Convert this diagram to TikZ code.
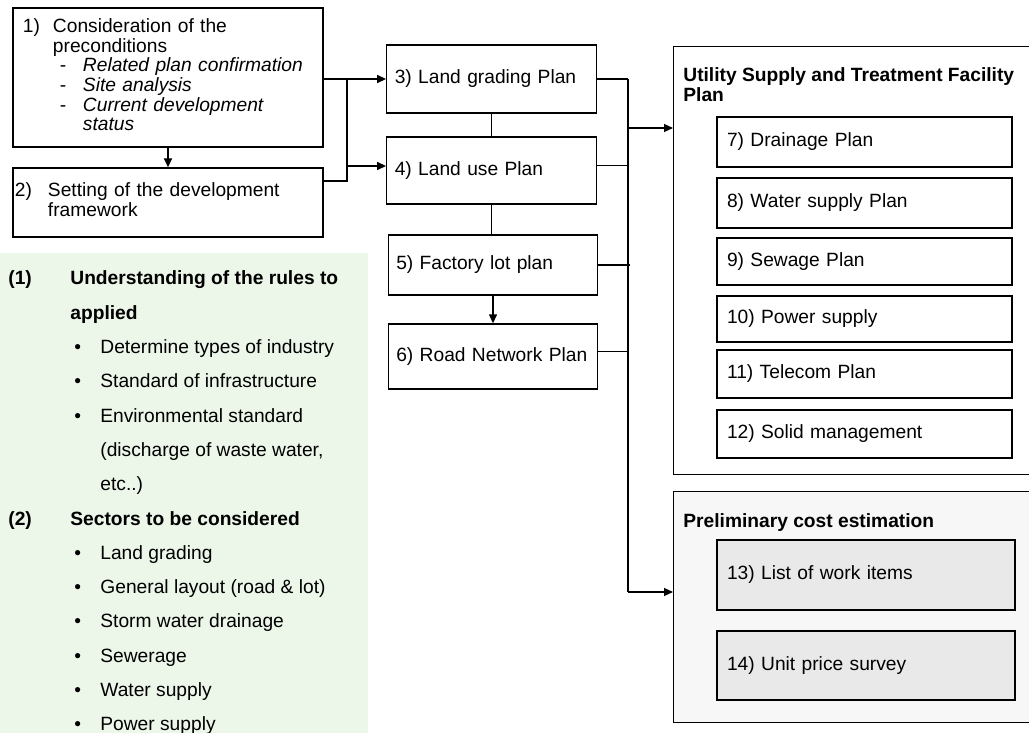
\documentclass[tikz,border=0pt]{standalone}
\usepackage{fontspec}
\setmainfont{Liberation Sans}
\usetikzlibrary{arrows.meta}
\usetikzlibrary{calc}
\definecolor{panelgreen}{RGB}{236,246,233}
\tikzset{planbox/.style={draw, line width=0.7pt, inner xsep=4pt, inner ysep=0pt, align=left, text width=96.75pt}}
\tikzset{utilbox/.style={draw, line width=0.7pt, inner xsep=5pt, inner ysep=0pt, align=left, text width=137.5pt}}
\tikzset{costbox/.style={draw, line width=0.9pt, fill=gray!17, inner xsep=5pt, inner ysep=0pt, align=left, text width=139pt}}
\tikzset{groupbox/.style={draw, line width=0.7pt, anchor=north west, minimum width=183.5pt, inner sep=0pt}}
\tikzset{grouptitle/.style={anchor=base west, inner sep=0pt, font=\fontsize{9.6}{10}\selectfont\bfseries}}

\begin{document}
\begin{tikzpicture}[x=0.5pt, y=-0.5pt, font=\fontsize{9.6}{9.7}\selectfont, >={Triangle[length=4.5pt,width=4pt]}]

\clip (0,0) rectangle (1029,733);

\node[fill=panelgreen, anchor=north west, minimum width=184pt, minimum height=240pt, inner sep=0pt] (panel) at (0,253) {};

\node[anchor=base west, inner sep=0pt, font=\fontsize{9.6}{17.15}\selectfont] (rules) at (8,285) {\begin{tabular}[t]{@{}p{31pt}@{}p{15pt}@{}l@{}}
\textbf{(1)} & \multicolumn{2}{@{}l@{}}{\textbf{Understanding of the rules to}}\\
 & \multicolumn{2}{@{}l@{}}{\textbf{applied}}\\
 & \hspace{2pt}\textbullet & Determine types of industry\\
 & \hspace{2pt}\textbullet & Standard of infrastructure\\
 & \hspace{2pt}\textbullet & Environmental standard\\
 & & (discharge of waste water,\\
 & & etc..)\\
\textbf{(2)} & \multicolumn{2}{@{}l@{}}{\textbf{Sectors to be considered}}\\
 & \hspace{2pt}\textbullet & Land grading\\
 & \hspace{2pt}\textbullet & General layout (road \& lot)\\
 & \hspace{2pt}\textbullet & Storm water drainage\\
 & \hspace{2pt}\textbullet & Sewerage\\
 & \hspace{2pt}\textbullet & Water supply\\
 & \hspace{2pt}\textbullet & Power supply
\end{tabular}};

\node[planbox, inner xsep=5pt, text width=145pt, minimum height=69.5pt] (pre) at (168,77.5) {\begin{tabular}{@{}p{15pt}@{}p{15pt}@{}l@{}}
1) & \multicolumn{2}{@{}l@{}}{Consideration of the}\\
 & \multicolumn{2}{@{}l@{}}{preconditions}\\
 & \hspace{3.5pt}- & \textit{Related plan confirmation}\\
 & \hspace{3.5pt}- & \textit{Site analysis}\\
 & \hspace{3.5pt}- & \textit{Current development}\\
 & & \textit{status}
\end{tabular}};

\node[planbox, inner xsep=1pt, text width=153pt, minimum height=34.5pt] (frame) at (168,202.5) {\begin{tabular}{@{}p{16.5pt}@{}l@{}}
2) & Setting of the development\\
 & framework
\end{tabular}};

\node[planbox, minimum height=34pt] (grading) at (491.5,79) {3) Land grading Plan};
\node[planbox, minimum height=33.5pt] (landuse) at (491.5,170.5) {4) Land use Plan};
\node[planbox, minimum height=30pt] (lot) at (493,265) {5) Factory lot plan};
\node[planbox, minimum height=32.5pt] (road) at (493,356.5) {6) Road Network Plan};

\node[groupbox, minimum height=214pt] (utility) at (673,46) {};
\node[grouptitle] (utiltitle) at (683,82) {\begin{tabular}[t]{@{}l@{}}Utility Supply and Treatment Facility\\Plan\end{tabular}};

\node[utilbox, minimum height=25pt] (drain) at (864.5,142) {7) Drainage Plan};
\node[utilbox, minimum height=25pt] (water) at (864.5,203) {8) Water supply Plan};
\node[utilbox, minimum height=23.5pt] (sewage) at (864.5,261.5) {9) Sewage Plan};
\node[utilbox, minimum height=23pt] (power) at (864.5,319) {10) Power supply};
\node[utilbox, minimum height=24pt] (telecom) at (864.5,374) {11) Telecom Plan};
\node[utilbox, minimum height=24pt] (solid) at (864.5,434) {12) Solid management};

\node[groupbox, fill=gray!6, minimum height=115.5pt] (cost) at (673,491) {};
\node[grouptitle] (costtitle) at (683,527) {Preliminary cost estimation};

\node[costbox, minimum height=35pt] (items) at (866,575) {13) List of work items};
\node[costbox, minimum height=34.5pt] (price) at (866,665.5) {14) Unit price survey};

\coordinate (jl) at (347,79);
\coordinate (jl2) at (347,166);
\coordinate (jf) at (347,181);

\draw[line width=0.7pt, ->] (pre.south) -- (frame.north);
\draw[line width=0.7pt, ->] (pre.east |- jl) -- (grading.west);
\draw[line width=0.7pt] (frame.east |- jf) -- (jf) -- (jl);
\draw[line width=0.7pt, ->] (jl2) -- (jl2 -| landuse.west);

\draw[line width=0.7pt] (grading.south) -- (landuse.north);
\draw[line width=0.7pt] (landuse.south) -- (landuse.south |- lot.north);
\draw[line width=0.7pt, ->] (lot.south) -- (road.north);

\coordinate (bt) at (628,79);
\coordinate (uin) at (628,128);
\coordinate (bb) at (628,592);

\draw[line width=0.7pt] (grading.east) -- (grading.east -| bt);
\draw[line width=0.7pt] ([yshift=2.5pt]landuse.east) -- ([yshift=2.5pt]landuse.east -| bt);
\draw[line width=0.7pt] (lot.east) -- ([xshift=1pt]lot.east -| bt);
\draw[line width=0.7pt] ([yshift=2.5pt]road.east) -- ([yshift=2.5pt]road.east -| bt);
\draw[line width=0.7pt] (bt) -- (bb);
\draw[line width=0.7pt, ->] (uin) -- (uin -| utility.west);
\draw[line width=0.7pt, ->] (bb) -- (bb -| cost.west);

\end{tikzpicture}
\end{document}
